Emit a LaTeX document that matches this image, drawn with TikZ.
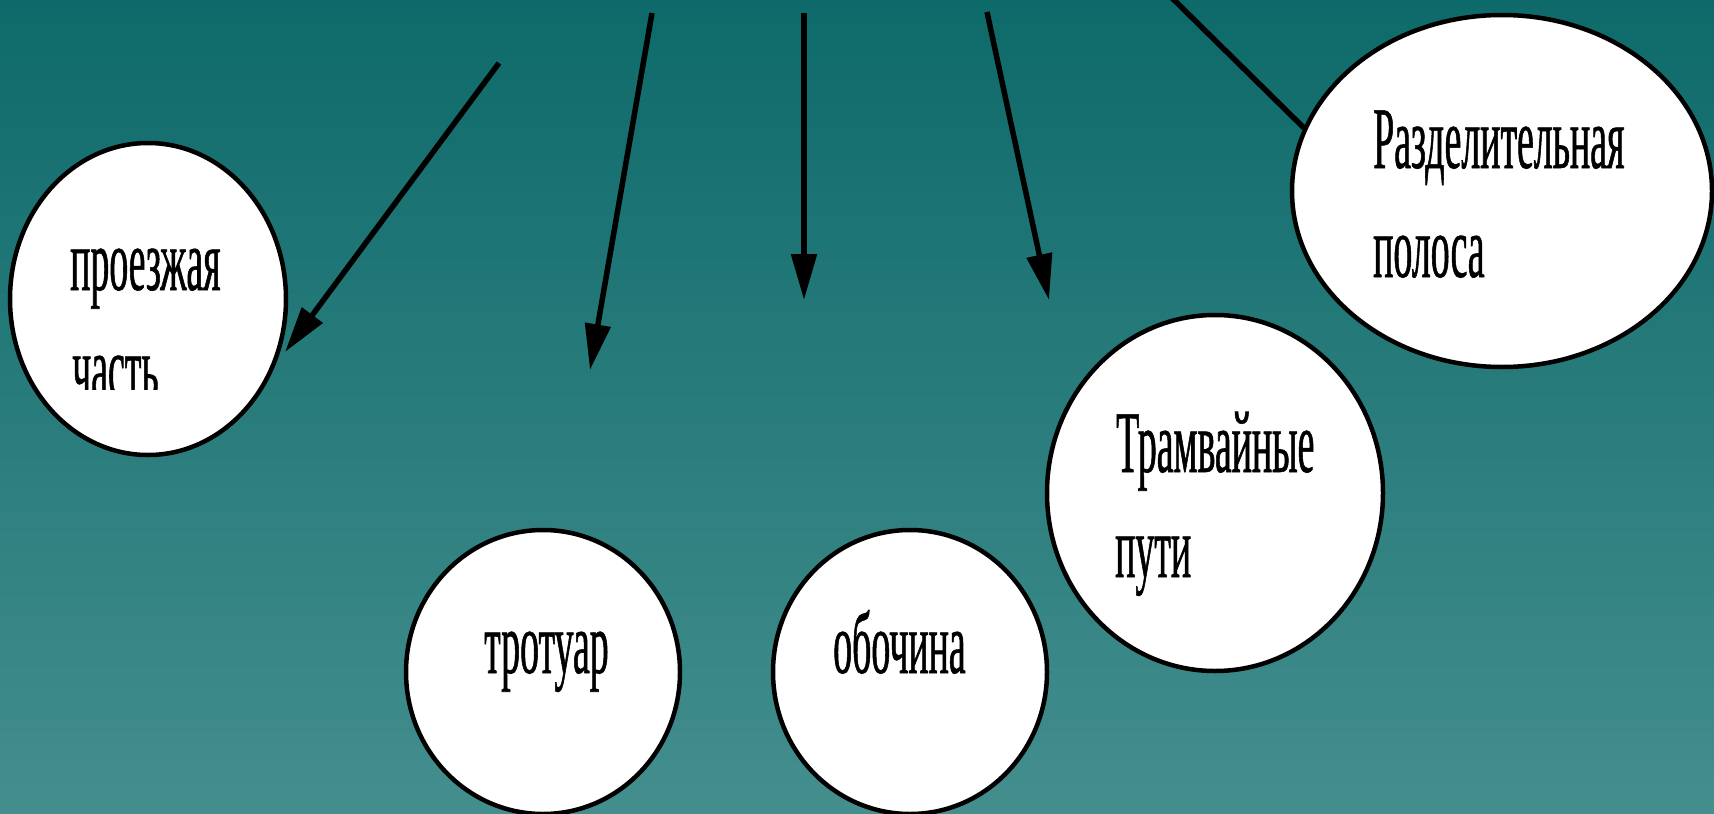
\documentclass[tikz,border=0pt]{standalone}
\usepackage{fontspec}
\newfontfamily\condserif[FakeStretch=0.43,FakeBold=0.6]{Liberation Serif}
\usetikzlibrary{arrows.meta,shapes.geometric}
\definecolor{bgtop}{RGB}{14,106,106}
\definecolor{bgbot}{RGB}{68,142,142}
\begin{document}
\begin{tikzpicture}[x=1pt,y=-1pt,
  bubble/.style={draw=black, line width=4.5pt, fill=white, ellipse, inner sep=0pt},
  lbl/.style={anchor=base west, inner sep=0pt, font=\condserif\fontsize{88}{107}\selectfont, text=black},
  conn/.style={line width=5.5pt, draw=black},
  arr/.style={conn, -{Triangle[length=46pt,width=25pt]}}]
\useasboundingbox (0,0) rectangle (1714,814);
\shade[top color=bgtop, bottom color=bgbot] (0,0) rectangle (1714,814);

% bubbles
\node[bubble, minimum width=276pt, minimum height=312pt] (e1) at (148,299) {};
\node[bubble, minimum width=274pt, minimum height=284pt] (e2) at (543,672) {};
\node[bubble, minimum width=274pt, minimum height=284pt] (e3) at (910,672) {};
\node[bubble, minimum width=336pt, minimum height=356pt] (e4) at (1215,493) {};
\node[bubble, minimum width=420pt, minimum height=352pt] (e5) at (1502,191) {};

% texts
\node[lbl] (t1a) at (70,290) {проезжая};
\begin{scope}
  \clip (0,0) rectangle (300,389);
  \node[lbl] (t1b) at (72,397) {часть};
\end{scope}
\node[lbl] (t2) at (484,673) {тротуар};
\node[lbl] (t3) at (833,673) {обочина};
\node[lbl] (t4a) at (1116,472) {Трамвайные};
\node[lbl] (t4b) at (1115,577) {пути};
\node[lbl] (t5a) at (1373,168) {Разделительная};
\node[lbl] (t5b) at (1373,277) {полоса};

% connector end points
\coordinate (s1) at (499,63);
\coordinate (p1) at (285,352);
\coordinate (s2) at (652,13);
\coordinate (p2) at (590,370);
\coordinate (s3) at (804,13);
\coordinate (p3) at (804,300);
\coordinate (s4) at (987,12);
\coordinate (p4) at (1049,300);
\coordinate (s5) at (1166,-8);
\coordinate (p5) at (1304,128);

\draw[arr] (s1) -- (p1);
\draw[arr] (s2) -- (p2);
\draw[arr] (s3) -- (p3);
\draw[arr] (s4) -- (p4);
\draw[conn] (s5) -- (p5);
\end{tikzpicture}
\end{document}
